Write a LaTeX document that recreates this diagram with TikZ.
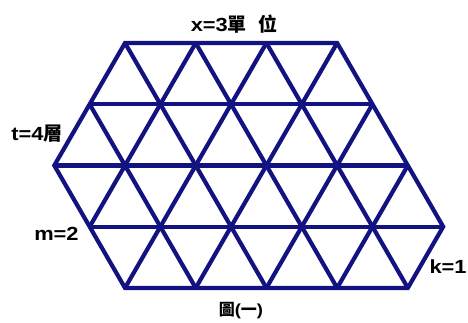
\documentclass[tikz,border=0pt]{standalone}
\usepackage{fontspec}
\setmainfont{Liberation Sans}[FakeStretch=1.15]
\newfontfamily\cjk{Noto Sans CJK TC}
\usepackage{tikz}
\definecolor{gridblue}{RGB}{18,18,128}
\tikzset{
	grid line/.style={draw=gridblue, line width=4.2pt, line join=miter},
	lbl/.style={font=\bfseries\fontsize{19}{21}\selectfont, inner sep=0pt},
	caption/.style={font=\bfseries\fontsize{16}{18}\selectfont, inner sep=0pt}
}

\begin{document}
\begin{tikzpicture}[x=70.7pt, y=61.23pt]
		\useasboundingbox (-1.768,-4.557) rectangle (4.851,0.702);
		% outline of the lattice
		\draw[grid line] (0,0) -- (3,0) -- (4.5,-3) -- (4,-4) -- (0,-4) -- (-1,-2) -- cycle;
		% inner rows
		\draw[grid line] (-0.5,-1) -- (3.5,-1);
		\draw[grid line] (-1,-2) -- (4,-2);
		\draw[grid line] (-0.5,-3) -- (4.5,-3);
		% falling diagonals
		\foreach \sx/\sy/\ex/\ey in {-0.5/-1/1/-4, 0/0/2/-4, 1/0/3/-4, 2/0/4/-4}
		\draw[grid line] (\sx,\sy) -- (\ex,\ey);
		% rising diagonals
		\foreach \sx/\sy/\ex/\ey in {-0.5/-3/1/0, 0/-4/2/0, 1/-4/3/0, 2/-4/3.5/-1, 3/-4/4/-2}
		\draw[grid line] (\sx,\sy) -- (\ex,\ey);
		% labels
		\node[lbl] (xunit) at (1.542,0.31) {x=3{\cjk 單\hspace{0.6em}位}};
		\node[lbl] (tlayer) at (-1.245,-1.486) {t=4{\cjk 層}};
		\node[lbl] (mval) at (-0.97,-3.12) {m=2};
		\node[lbl] (kval) at (4.569,-3.66) {k=1};
		\node[caption] (fig) at (1.64,-4.377) {{\cjk 圖}({\cjk 一})};
	\end{tikzpicture}
\end{document}
